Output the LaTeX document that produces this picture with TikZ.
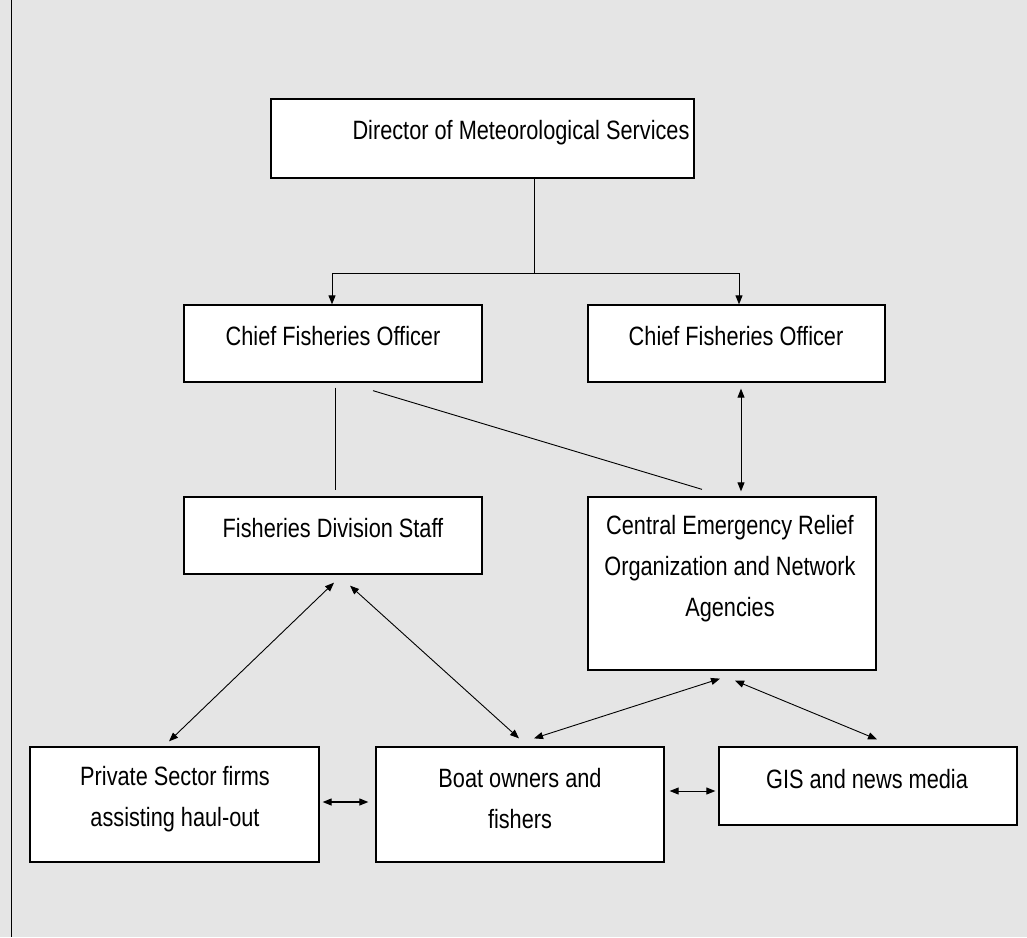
\documentclass[tikz,border=0pt]{standalone}
\usepackage{fontspec}
\setmainfont{Liberation Sans}[FakeStretch=0.82]
\usetikzlibrary{arrows.meta}
\definecolor{bg}{RGB}{229,229,229}
\begin{document}
\begin{tikzpicture}[x=1pt,y=-1pt,
  box/.style={draw=black, line width=1.3pt, fill=white, inner sep=0pt},
  lbl/.style={font=\fontsize{26.5}{41}\selectfont, align=center, inner sep=0pt},
  conn/.style={line width=0.9pt},
  tip/.style={},
  arr/.style={conn, -{Triangle[length=9pt,width=7pt]}},
  darr/.style={conn, {Triangle[length=9pt,width=7pt]}-{Triangle[length=9pt,width=7pt]}}]
\fill[bg] (0,0) rectangle (1027,937);
\useasboundingbox (0,0) rectangle (1027,937);
\draw[line width=1pt] (11.5,0) -- (11.5,937);

% boxes
\node[box, minimum width=423pt, minimum height=79pt] (d) at (482.5,138.5) {};
\node[box, minimum width=298pt, minimum height=77pt] (cfoL) at (333,343.5) {};
\node[box, minimum width=297pt, minimum height=77pt] (cfoR) at (736.5,343.5) {};
\node[box, minimum width=298pt, minimum height=77pt] (fds) at (333,535.5) {};
\node[box, minimum width=288pt, minimum height=173pt] (cero) at (732,583.5) {};
\node[box, minimum width=289pt, minimum height=115pt] (ps) at (174.5,804.5) {};
\node[box, minimum width=288pt, minimum height=115pt] (boat) at (520,804.5) {};
\node[box, minimum width=298pt, minimum height=78pt] (gis) at (868,786) {};

% labels
\node[lbl] (dt) at (521,133) {Director of Meteorological Services};
\node[lbl] (cfoLt) at (333,336) {Chief Fisheries Officer};
\node[lbl] (cfoRt) at (736,336) {Chief Fisheries Officer};
\node[lbl] (fdst) at (333,528) {Fisheries Division Staff};
\node[lbl] (cerot) at (730,569) {Central Emergency Relief\\Organization and Network\\Agencies};
\node[lbl] (pst) at (175,799) {Private Sector firms\\assisting haul-out};
\node[lbl] (boatt) at (520,799) {Boat owners and\\fishers};
\node[lbl] (gist) at (867,779) {GIS and news media};

% connectors
\coordinate (split) at (534,273);
\draw[conn] (d.south -| split) -- (split);
\draw[arr] (split) -| ([xshift=-1pt]cfoL.north);
\draw[arr] (split) -| ([xshift=2.5pt]cfoR.north);
\draw[conn] ([xshift=2pt,yshift=-5pt]cfoL.south) -- ([xshift=2pt,yshift=6pt]fds.north);
\draw[conn] ([xshift=40pt,yshift=-8pt]cfoL.south) -- ([xshift=-30pt,yshift=7pt]cero.north);
\draw[darr] ([xshift=4.5pt,yshift=-6pt]cfoR.south) -- ([xshift=9pt,yshift=5pt]cero.north);
\draw[darr] ([xshift=1pt,yshift=-8pt]fds.south) -- ([xshift=-5.5pt,yshift=5pt]ps.north);
\draw[darr] ([xshift=17pt,yshift=-11pt]fds.south) -- ([xshift=-1pt,yshift=8pt]boat.north);
\draw[darr] ([xshift=-12pt,yshift=-8pt]cero.south) -- ([xshift=14pt,yshift=8pt]boat.north);
\draw[darr] ([xshift=3pt,yshift=-10pt]cero.south) -- ([xshift=9pt,yshift=7pt]gis.north);
\draw[darr, line width=1.2pt] ([xshift=3pt,yshift=2.5pt]ps.east) -- ([xshift=-7pt,yshift=2.5pt]boat.west);
\draw[darr] ([xshift=5pt,yshift=13.5pt]boat.east) -- ([xshift=-3pt,yshift=-5pt]gis.west);
\end{tikzpicture}
\end{document}
